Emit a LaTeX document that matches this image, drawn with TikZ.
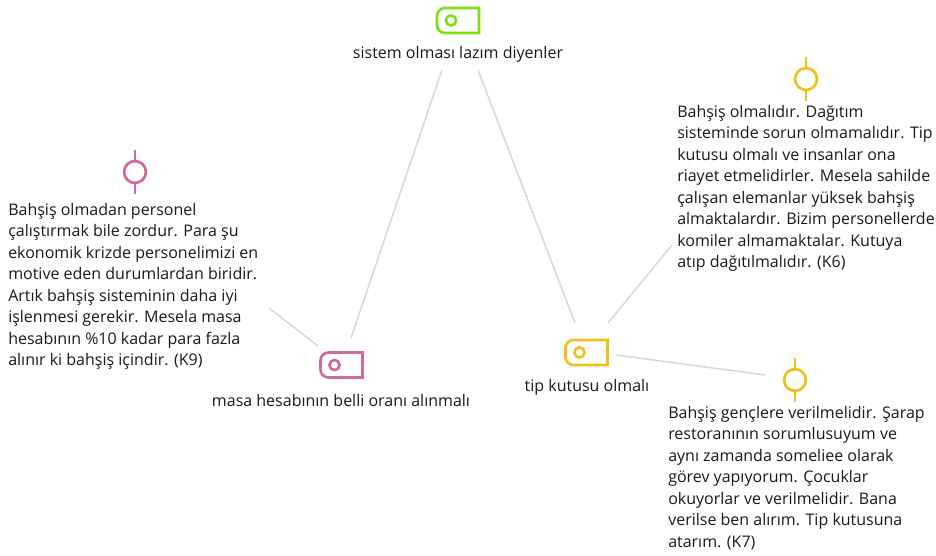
\documentclass[tikz,border=0pt]{standalone}
\usepackage{fontspec}
\setmainfont{Open Sans}
\begin{document}
\begin{tikzpicture}[x=0.75pt,y=-0.75pt,
  txt/.style={font=\fontsize{12}{16.1}\selectfont, inner sep=0pt, text=black!90},
  note/.style={txt, align=left, anchor=north west},
  lbl/.style={txt, anchor=base},
  conn/.style={draw=black!16, line width=1.1pt},
  iconline/.style={line width=2pt},
  tagicon/.pic={
    \draw[iconline] (21,-12.5) -- (-13,-12.5) arc[start angle=90,end angle=180,radius=6pt]
      -- (-21,4.5) arc[start angle=180,end angle=270,radius=6pt] -- (21,12.5) -- cycle;
    \draw[iconline] (-7,0) circle[radius=3.8pt];
  },
  pinicon/.pic={
    \draw[iconline] (0,-22) -- (0,-11) (0,11) -- (0,22);
    \draw[iconline] (0,0) circle[radius=8.2pt];
  }]
\definecolor{tgreen}{HTML}{7FE01A}
\definecolor{tpink}{HTML}{D06A98}
\definecolor{tyellow}{HTML}{EEC11A}
\useasboundingbox (0,0) rectangle (936,556);

% icons
\pic[draw=tgreen] (g) at (458,20.5) {tagicon};
\pic[draw=tpink] (p) at (341.5,365) {tagicon};
\pic[draw=tyellow] (y) at (586.5,352.5) {tagicon};
\pic[draw=tpink] (pp) at (135,172) {pinicon};
\pic[draw=tyellow] (yp1) at (806,79) {pinicon};
\pic[draw=tyellow] (yp2) at (795,380) {pinicon};

% labels
\node[lbl] (glbl) at (458,59) {sistem olması lazım diyenler};
\node[lbl] (plbl) at (341,406) {masa hesabının belli oranı alınmalı};
\node[lbl] (ylbl) at (587,391) {tip kutusu olmalı};

% notes
\node[note] (n9) at (8,203) {Bahşiş olmadan personel\\çalıştırmak bile zordur. Para şu\\ekonomik krizde personelimizi en\\motive eden durumlardan biridir.\\Artık bahşiş sisteminin daha iyi\\işlenmesi gerekir. Mesela masa\\hesabının \%10 kadar para fazla\\alınır ki bahşiş içindir. (K9)};
\node[note] (n6) at (677,105) {Bahşiş olmalıdır. Dağıtım\\sisteminde sorun olmamalıdır. Tip\\kutusu olmalı ve insanlar ona\\riayet etmelidirler. Mesela sahilde\\çalışan elemanlar yüksek bahşiş\\almaktalardır. Bizim personellerde\\komiler almamaktalar. Kutuya\\atıp dağıtılmalıdır. (K6)};
\node[note] (n7) at (668,406) {Bahşiş gençlere verilmelidir. Şarap\\restoranının sorumlusuyum ve\\aynı zamanda someliee olarak\\görev yapıyorum. Çocuklar\\okuyorlar ve verilmelidir. Bana\\verilse ben alırım. Tip kutusuna\\atarım. (K7)};

% connector ends
\coordinate (c1a) at (442,70);
\coordinate (c1b) at (351,338);
\coordinate (c2a) at (478,70);
\coordinate (c2b) at (575,323);
\coordinate (c3a) at (269,308);
\coordinate (c3b) at (318,346);
\coordinate (c4a) at (608,323);
\coordinate (c4b) at (672,245);
\coordinate (c5a) at (616,355);
\coordinate (c5b) at (765,375);
\draw[conn] (c1a) -- (c1b);
\draw[conn] (c2a) -- (c2b);
\draw[conn] (c3a) -- (c3b);
\draw[conn] (c4a) -- (c4b);
\draw[conn] (c5a) -- (c5b);
\end{tikzpicture}
\end{document}
